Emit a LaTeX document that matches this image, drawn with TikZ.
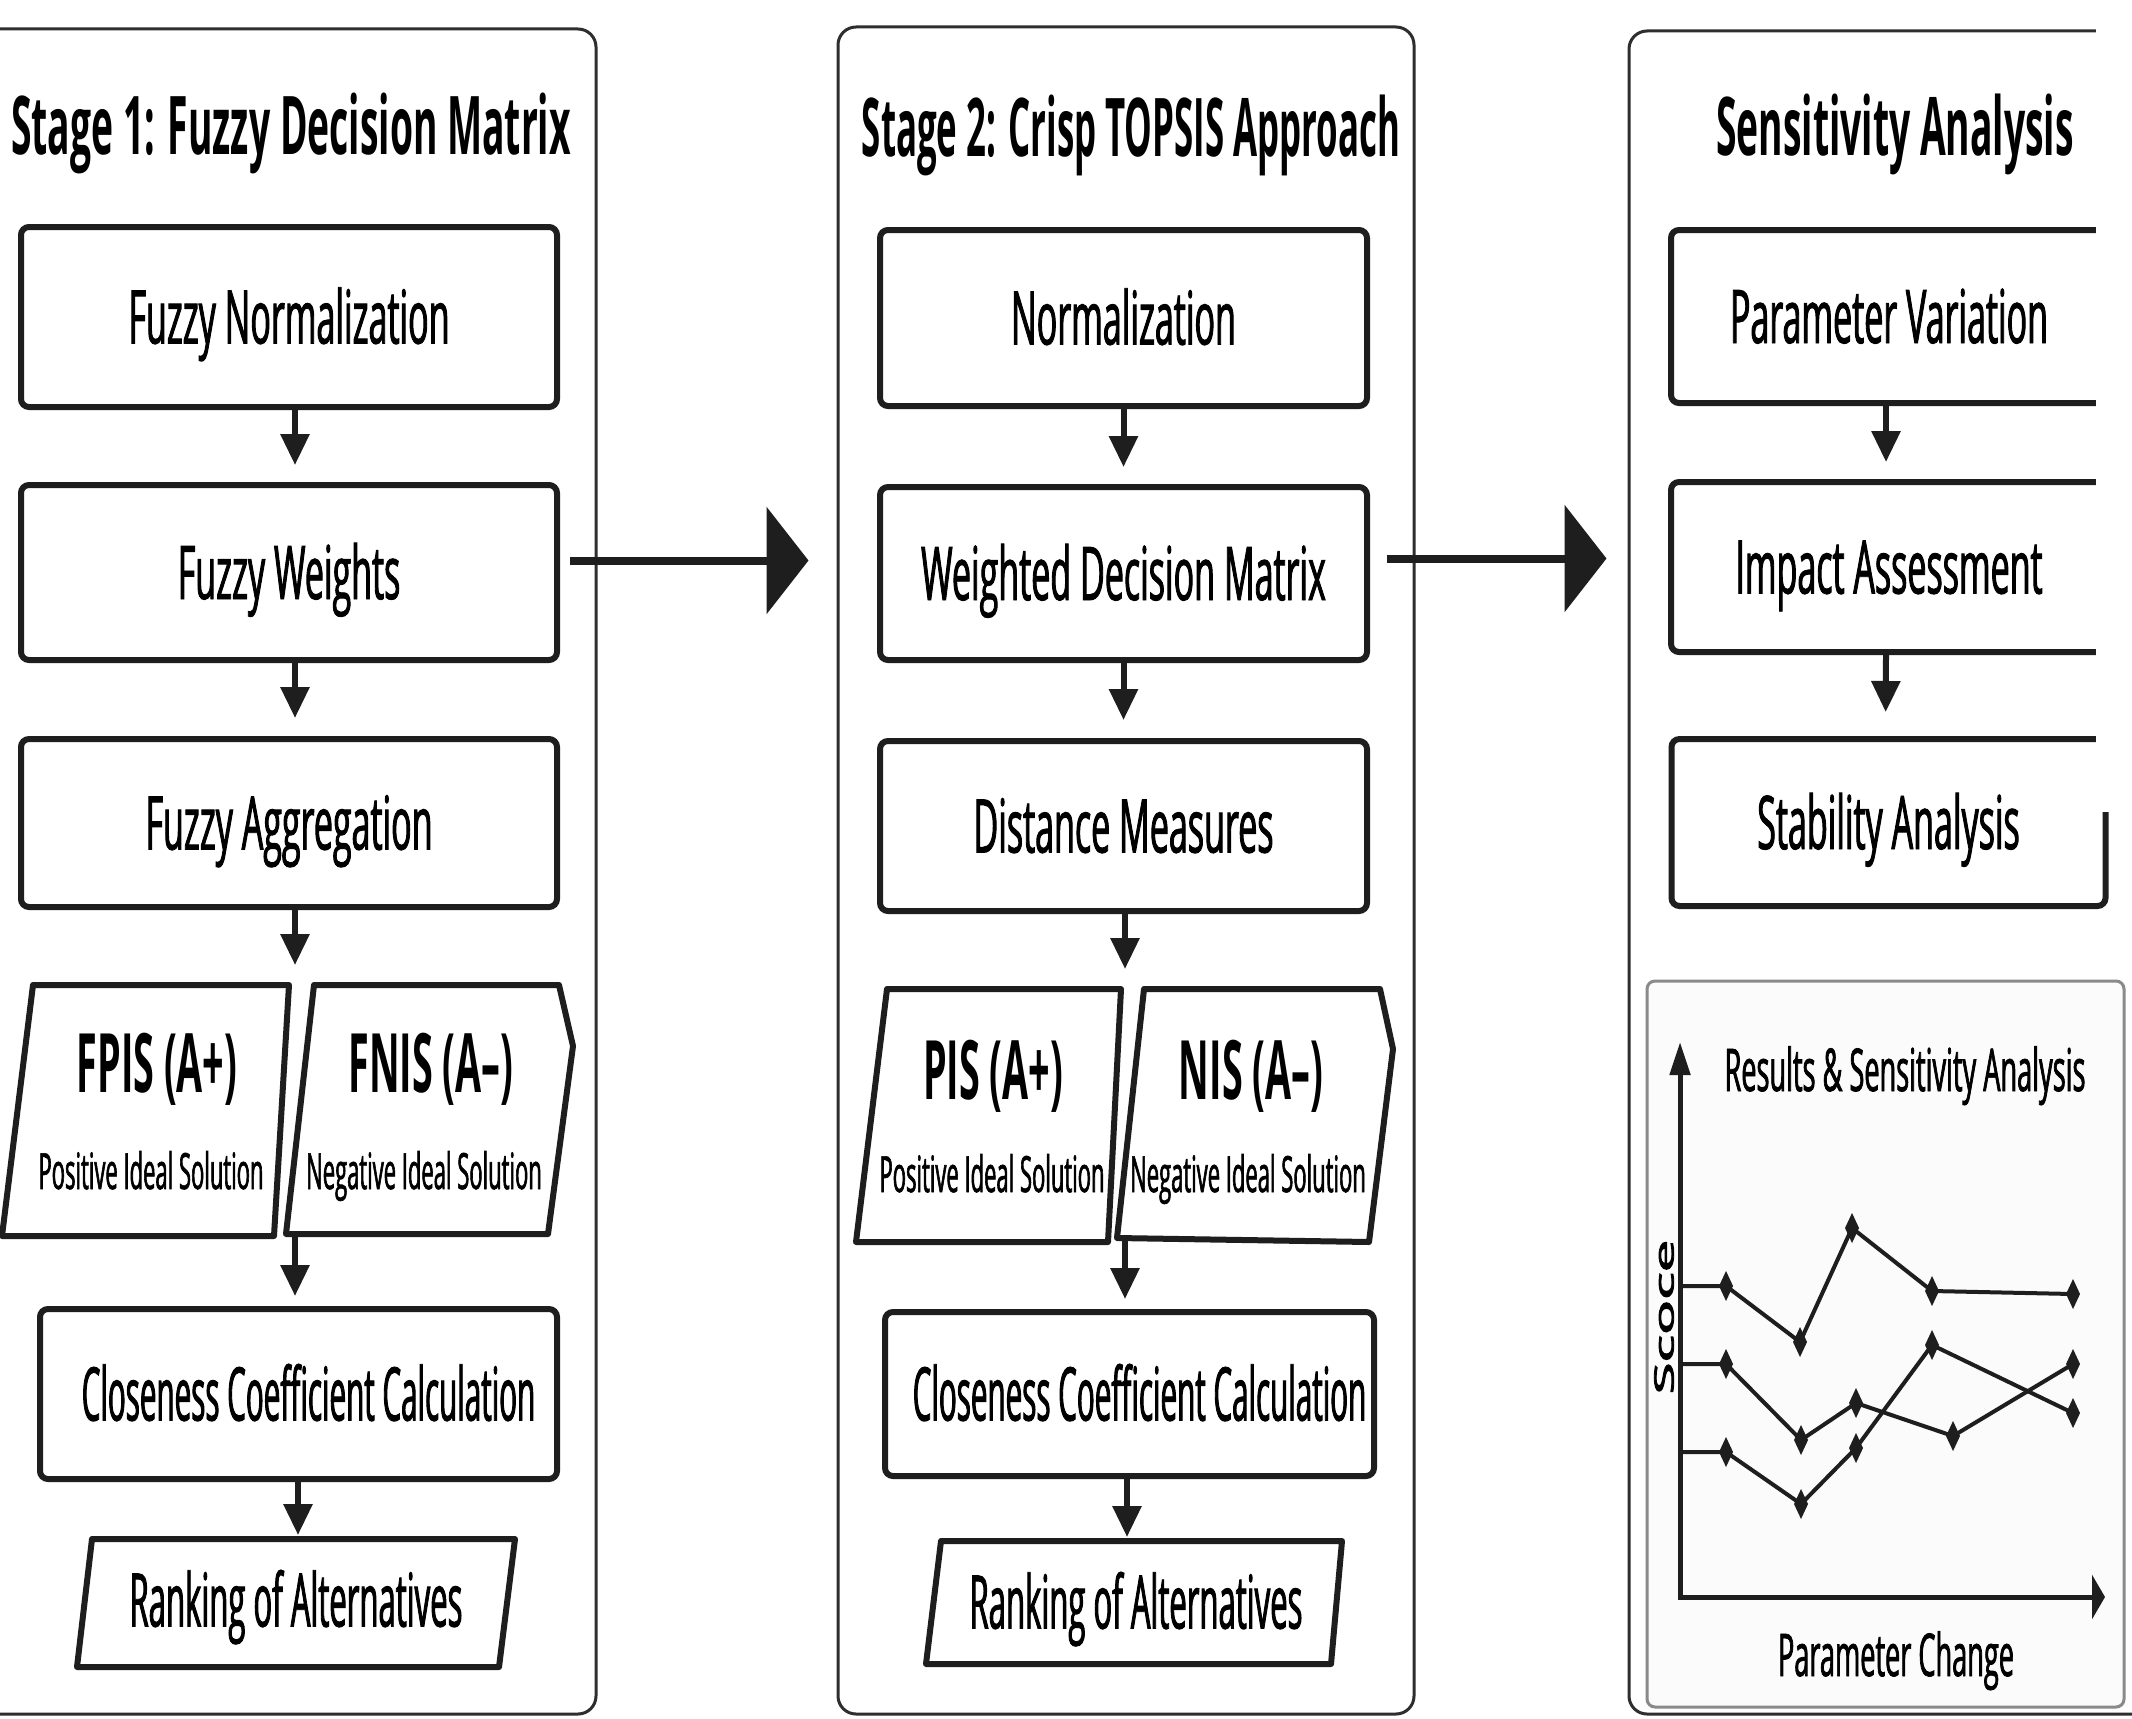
\documentclass[tikz,border=0pt]{standalone}
\usepackage{fontspec}
\newfontfamily\osb[FakeStretch=0.46]{Open Sans}
\newfontfamily\osbn[FakeStretch=0.43]{Open Sans}
\newfontfamily\osr[FakeStretch=0.46,FakeBold=1.2]{Open Sans}
\newfontfamily\osrn[FakeStretch=0.42,FakeBold=1.2]{Open Sans}
\newfontfamily\osrc[FakeStretch=0.40,FakeBold=1.2]{Open Sans}
\newfontfamily\osrs[FakeStretch=0.44,FakeBold=1.2]{Open Sans}
\newfontfamily\osplain[FakeBold=3]{Open Sans}
\usetikzlibrary{arrows.meta,calc}
\definecolor{ink}{HTML}{1E1E1E}
\definecolor{frame}{HTML}{2E2E2E}
\definecolor{chartframe}{HTML}{8A8A8A}
\definecolor{chartfill}{HTML}{FBFBFB}
\tikzset{
  panel/.style={draw=frame, line width=3pt, rounded corners=18pt, fill=white, inner sep=0pt},
  stepbox/.style={draw=ink, line width=6pt, rounded corners=8pt, fill=white, inner sep=0pt,
    font=\osr\fontsize{74}{80}\selectfont, text height=53pt, text depth=0pt},
  narrowtext/.style={font=\osrn\fontsize{74}{80}\selectfont},
  closetext/.style={font=\osrc\fontsize{74}{80}\selectfont},
  shapeline/.style={draw=ink, line width=6pt, line join=round, fill=white},
  lbl/.style={inner sep=0pt, font=\osr\fontsize{74}{80}\selectfont, text height=53pt, text depth=0pt},
  ttl/.style={inner sep=0pt, font=\osb\bfseries\fontsize{81}{90}\selectfont, text height=58pt, text depth=0pt},
  biglbl/.style={inner sep=0pt, font=\osb\bfseries\fontsize{82}{90}\selectfont, text height=59pt, text depth=0pt},
  sublbl/.style={inner sep=0pt, font=\osrs\fontsize{50}{56}\selectfont, text height=36pt, text depth=0pt},
  chartlbl/.style={inner sep=0pt, font=\osr\fontsize{59}{64}\selectfont, text height=42pt, text depth=0pt},
  flow/.style={draw=ink, line width=6pt, -{Triangle[width=28pt,length=31pt]}},
  bigarrow/.style={draw=ink, line width=8pt, -{Triangle[width=106pt,length=42pt]}},
  axisline/.style={draw=ink, line width=5pt},
  series/.style={draw=ink, line width=4pt, line join=round},
}
\begin{document}
\begin{tikzpicture}[x=1pt,y=-1pt]
\useasboundingbox[fill=white] (0,0) rectangle (2132,1718);

% ---------- panels ----------
\node[panel, minimum width=616pt, minimum height=1685pt] (p1) at (288,871.5) {};
\node[panel, minimum width=576pt, minimum height=1687pt] (p2) at (1126,870.5) {};
\node[panel, minimum width=611pt, minimum height=1683pt] (p3) at (1934.5,872.5) {};

% ---------- titles ----------
\node[ttl] (t1) at (291,125) {Stage 1: Fuzzy Decision Matrix};
\node[ttl, font=\osbn\bfseries\fontsize{81}{90}\selectfont] (t2) at (1131,128) {Stage 2: Crisp TOPSIS Approach};
\node[ttl] (t3) at (1895,126) {Sensitivity Analysis};

% ---------- stage 1 ----------
\node[stepbox, minimum width=536pt, minimum height=180pt] (norm1) at (289,317) {Fuzzy Normalization};
\node[stepbox, minimum width=536pt, minimum height=175pt] (weights1) at (289,572.5) {Fuzzy Weights};
\node[stepbox, minimum width=536pt, minimum height=168pt] (aggr1) at (289,823) {Fuzzy Aggregation};
\draw[shapeline] (33,985) -- (289,985) -- (274,1236) -- (2,1236) -- cycle;
\draw[shapeline] (314,985) -- (559,985) -- (573,1046) -- (548,1234) -- (286,1234) -- cycle;
\node[biglbl] (fpis) at (157,1063) {FPIS (A+)};
\node[sublbl] (fpissub) at (151,1171) {Positive Ideal Solution};
\node[biglbl] (fnis) at (431,1063) {FNIS (A–)};
\node[sublbl] (fnissub) at (424,1171) {Negative Ideal Solution};
\coordinate (j1top) at (295,985);
\coordinate (j1bot) at (295,1234);
\node[stepbox, closetext, minimum width=517pt, minimum height=170pt] (close1) at (298.5,1394) {\hspace*{20pt}Closeness Coefficient Calculation};
\draw[shapeline] (92,1539) -- (515,1539) -- (499,1667) -- (77,1667) -- cycle;
\coordinate (r1top) at (298,1539);
\node[lbl, narrowtext] (rank1) at (296,1600) {Ranking of Alternatives};

\draw[flow, shorten >=17pt] ([xshift=6pt]norm1.south) -- ([xshift=6pt]weights1.north);
\draw[flow, shorten >=18pt] ([xshift=6pt]weights1.south) -- ([xshift=6pt]aggr1.north);
\draw[flow, shorten >=20pt] (aggr1.south -| j1top) -- (j1top);
\draw[flow, shorten >=10pt] (j1bot) -- (j1bot |- close1.north);
\draw[flow, shorten >=4pt] (close1.south -| r1top) -- (r1top);

% ---------- stage 2 ----------
\node[stepbox, minimum width=487pt, minimum height=176pt] (norm2) at (1123.5,318) {Normalization};
\node[stepbox, minimum width=487pt, minimum height=173pt] (weighted2) at (1123.5,573.5) {Weighted Decision Matrix};
\node[stepbox, minimum width=487pt, minimum height=170pt] (dist2) at (1123.5,826) {Distance Measures};
\draw[shapeline] (887,989) -- (1121,989) -- (1108,1242) -- (856,1242) -- cycle;
\draw[shapeline] (1144,989) -- (1380,989) -- (1393,1049) -- (1369,1242) -- (1117,1238) -- cycle;
\node[biglbl] (pis) at (993,1070) {PIS (A+)};
\node[sublbl] (pissub) at (992,1174) {Positive Ideal Solution};
\node[biglbl] (nis) at (1251,1070) {NIS (A–)};
\node[sublbl] (nissub) at (1248,1174) {Negative Ideal Solution};
\coordinate (j2top) at (1125,989);
\coordinate (j2bot) at (1125,1240);
\node[stepbox, closetext, minimum width=489pt, minimum height=164pt] (close2) at (1129.5,1394) {\hspace*{20pt}Closeness Coefficient Calculation};
\draw[shapeline] (941,1541) -- (1342,1541) -- (1331,1664) -- (926,1664) -- cycle;
\coordinate (r2top) at (1127,1541);
\node[lbl, narrowtext] (rank2) at (1136,1602) {Ranking of Alternatives};

\draw[flow, shorten >=17pt] (norm2.south) -- (weighted2.north);
\draw[flow, shorten >=18pt] (weighted2.south) -- (dist2.north);
\draw[flow, shorten >=20pt] (dist2.south -| j2top) -- (j2top);
\draw[flow, shorten >=10pt] (j2bot) -- (j2bot |- close2.north);
\draw[flow, shorten >=4pt] (close2.south -| r2top) -- (r2top);

% ---------- stage 3 ----------
\node[stepbox, minimum width=436pt, minimum height=173pt] (param3) at (1889,316.5) {Parameter Variation};
\node[stepbox, minimum width=436pt, minimum height=170pt] (impact3) at (1889,567) {Impact Assessment};
\node[stepbox, minimum width=434pt, minimum height=167pt] (stab3) at (1888.5,822.5) {Stability Analysis};
\draw[flow, shorten >=17pt] ([xshift=-3pt]param3.south) -- ([xshift=-3pt]impact3.north);
\draw[flow, shorten >=24pt] ([xshift=-3pt]impact3.south) -- ([xshift=-3pt]stab3.north);

% ---------- big arrows between stages ----------
\coordinate (a1s) at ([xshift=10pt,yshift=12pt]weights1.east);
\draw[bigarrow, shorten >=28pt] (a1s) -- (a1s -| p2.west);
\coordinate (a2s) at ([xshift=17pt,yshift=15pt]weighted2.east);
\draw[bigarrow, shorten >=21pt] (a2s) -- (a2s -| p3.west);

% ---------- chart ----------
\node[draw=chartframe, line width=3pt, fill=chartfill, rounded corners=8pt, inner sep=0pt,
      minimum width=477pt, minimum height=726pt] (chart) at (1885.5,1344) {};
\node[chartlbl] (ctitle) at (1905,1070) {Results \& Sensitivity Analysis};
\node[chartlbl] (xlab) at (1896,1655) {Parameter Change};
\node[inner sep=0pt, rotate=90] (ylab) at (1664,1317) {\scalebox{1}[0.46]{\osplain\fontsize{58}{60}\selectfont Scoce}};
\coordinate (orig) at (1680,1597);
\coordinate (ytip) at (1680,1042);
\coordinate (xtip) at (2105,1597);
\draw[axisline, -{Triangle[width=20pt,length=33pt]}] ([yshift=-2pt]orig) -- (ytip);
\draw[axisline, -{Triangle[width=44pt,length=13pt]}] ([xshift=-2pt]orig) -- (xtip);

\draw[series] (1683,1286) -- (1726,1286) -- (1800,1342) -- (1852,1228) -- (1932,1291) -- (2073,1294);
\draw[series] (1683,1364) -- (1726,1364) -- (1801,1440) -- (1856,1403) -- (1953,1436) -- (2073,1364);
\draw[series] (1683,1452) -- (1726,1452) -- (1801,1504) -- (1856,1448) -- (1932,1345) -- (2073,1413);
\foreach \p in {(1726,1286),(1800,1342),(1852,1228),(1932,1291),(2073,1294),
                (1726,1364),(1801,1440),(1856,1403),(1953,1436),(2073,1364),
                (1726,1452),(1801,1504),(1856,1448),(1932,1345),(2073,1413)}
  \fill[ink] \p +(0,-15) -- +(7,0) -- +(0,15) -- +(-7,0) -- cycle;

% ---------- cropped right edge of the original ----------
\fill[white] (2096,0) rectangle (2140,812);
\end{tikzpicture}
\end{document}
